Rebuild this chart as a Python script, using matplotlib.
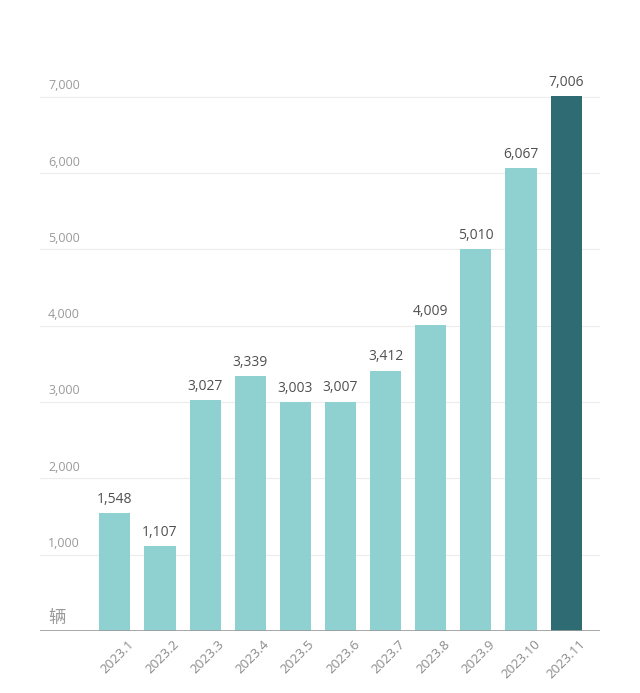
import matplotlib.pyplot as plt

plt.rcParams['font.family'] = ['Open Sans', 'Noto Sans CJK SC', 'DejaVu Sans']

months = ['2023.1', '2023.2', '2023.3', '2023.4', '2023.5', '2023.6',
          '2023.7', '2023.8', '2023.9', '2023.10', '2023.11']
sales = [1548, 1107, 3027, 3339, 3003, 3007, 3412, 4009, 5010, 6067, 7006]
yticks = [1000, 2000, 3000, 4000, 5000, 6000, 7000]

light = '#8fd0d0'
dark = '#2e6b72'

fig = plt.figure(figsize=(6.4, 6.93), dpi=100)
ax = fig.add_axes([0.0625, 0.0895, 0.875, 0.853])

colors = [light] * (len(sales) - 1) + [dark]
x = list(range(len(sales)))
ax.bar(x, sales, width=0.69, color=colors, zorder=2)

# value labels above bars
for xi, v in zip(x, sales):
    ax.text(xi, v + 80, f'{v:,}', ha='center', va='bottom',
            fontsize=10, color='#505050')

ax.set_xlim(-1.66, 10.75)
ax.set_ylim(0, 7746)

# light gridlines, labels sitting above them on the left
for t in yticks:
    ax.axhline(t, color='#ececec', linewidth=0.8, zorder=1)
    ax.text(-1.48, t + 60, f'{t:,}', ha='left', va='bottom',
            fontsize=9, color='#9a9a9a')
ax.text(-1.48, 50, '辆', ha='left', va='bottom', fontsize=12.5, color='#9a9a9a')

ax.axhline(0, color='#9a9a9a', linewidth=1.2, zorder=3)

# rotated month labels, anchored a little right of each bar centre
ax.set_xticks(x)
ax.set_xticklabels([])
for xi, m in zip(x, months):
    ax.annotate(m, xy=(xi, 0), xytext=(9, -5), textcoords='offset points',
                rotation=45, ha='right', va='top', rotation_mode='anchor',
                fontsize=9.5, color='#8a8a8a', annotation_clip=False)

ax.set_yticks([])
ax.tick_params(axis='x', length=0)

for s in ax.spines.values():
    s.set_visible(False)

fig.savefig('out.png', dpi=100, facecolor='white')
